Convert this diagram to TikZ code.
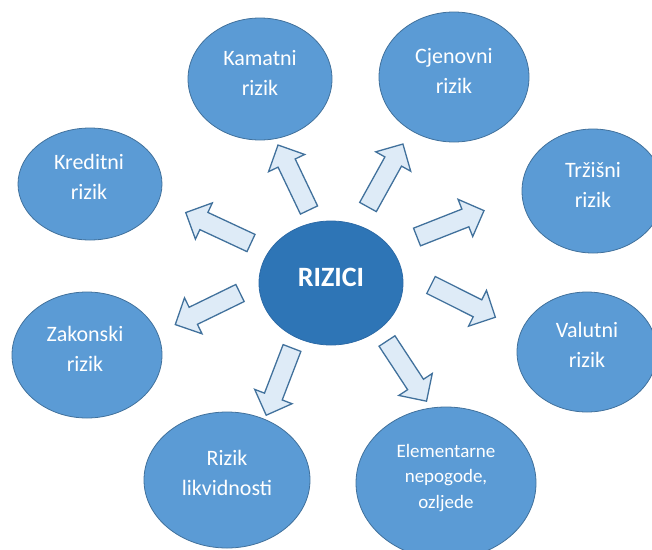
\documentclass[tikz,border=0pt]{standalone}
\usepackage{fontspec}
\setmainfont{Carlito}
\usetikzlibrary{shapes.geometric}
\definecolor{outerfill}{HTML}{5B9BD5}
\definecolor{outerdraw}{HTML}{41719C}
\definecolor{centerfill}{HTML}{2E75B6}
\definecolor{centerdraw}{HTML}{2C6AA6}
\definecolor{arrfill}{HTML}{DEEBF7}
\definecolor{arrdraw}{HTML}{41719C}
\tikzset{
  outer/.style={ellipse, fill=outerfill, draw=outerdraw, line width=0.8pt, inner sep=0pt},
  centre/.style={ellipse, fill=centerfill, draw=centerdraw, line width=0.8pt, inner sep=0pt},
  lbl/.style={text=white, align=center, font=\fontsize{22}{30}\selectfont, inner sep=0pt},
  smalllbl/.style={text=white, align=center, font=\fontsize{19}{25.5}\selectfont, inner sep=0pt},
  arrowstyle/.style={fill=arrfill, draw=arrdraw, line width=1.3pt, line join=miter},
  blockarr/.pic={\draw[arrowstyle] (0,-9.5) -- (52,-9.5) -- (52,-20) -- (72,0) -- (52,20) -- (52,9.5) -- (0,9.5) -- cycle;}
}
\begin{document}
\begin{tikzpicture}[x=1pt,y=-1pt]
\useasboundingbox (0,0) rectangle (652,549);
\clip (0,0) rectangle (652,549);
% outer ellipses
\node[outer, minimum width=144pt, minimum height=122pt] (kam) at (260,79) {};
\node[outer, minimum width=150pt, minimum height=130pt] (cje) at (454,77) {};
\node[outer, minimum width=144pt, minimum height=112pt] (kre) at (90,184) {};
\node[outer, minimum width=142pt, minimum height=124pt] (trz) at (593,191) {};
\node[outer, minimum width=150pt, minimum height=126pt] (zak) at (87,355) {};
\node[outer, minimum width=140pt, minimum height=120pt] (val) at (587,352) {};
\node[outer, minimum width=166pt, minimum height=136pt] (lik) at (227,480) {};
\node[outer, minimum width=180pt, minimum height=152pt] (ele) at (446,483) {};
% centre
\node[centre, minimum width=144pt, minimum height=124pt] (riz) at (331,283) {};
% labels
\node[lbl] (tkam) at (260,73) {Kamatni\\rizik};
\node[lbl] (tcje) at (454,71) {Cjenovni\\rizik};
\node[lbl] (tkre) at (89,177) {Kreditni\\rizik};
\node[lbl] (ttrz) at (593,185) {Tržišni\\rizik};
\node[lbl] (tzak) at (85,349) {Zakonski\\rizik};
\node[lbl] (tval) at (587,345) {Valutni\\rizik};
\node[lbl] (tlik) at (227,473) {Rizik\\likvidnosti};
\node[smalllbl] (tele) at (446,478) {Elementarne\\nepogode,\\ozljede};
\node[text=white, font=\fontsize{28}{32}\selectfont\bfseries, inner sep=0pt] (triz) at (331,277) {RIZICI};
% arrow tails
\coordinate (a1) at (309,210);
\coordinate (a2) at (368,207);
\coordinate (a3) at (417,237);
\coordinate (a4) at (431,285);
\coordinate (a5) at (387,341);
\coordinate (a6) at (292,348);
\coordinate (a7) at (240,293);
\coordinate (a8) at (251,243);
\pic[rotate=115.5] at (a1) {blockarr};
\pic[rotate=61] at (a2) {blockarr};
\pic[rotate=21.5] at (a3) {blockarr};
\pic[rotate=-26.6] at (a4) {blockarr};
\pic[rotate=-56.7] at (a5) {blockarr};
\pic[rotate=-111] at (a6) {blockarr};
\pic[rotate=206] at (a7) {blockarr};
\pic[rotate=155] at (a8) {blockarr};
\end{tikzpicture}
\end{document}
